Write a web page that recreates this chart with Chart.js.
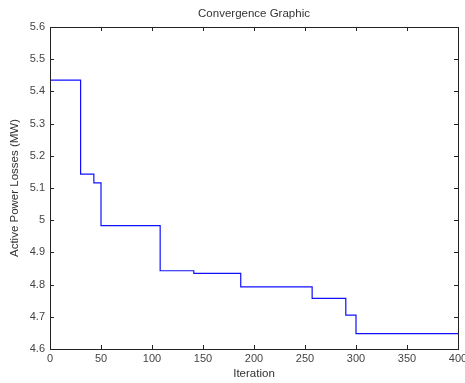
<!DOCTYPE html>
<html>
<head>
<meta charset="utf-8">
<script src="https://cdn.jsdelivr.net/npm/chart.js@4"></script>
<style>
  html, body { margin: 0; padding: 0; background: #fff; }
  #wrap { width: 465px; height: 383px; }
</style>
</head>
<body>
<div id="wrap"><canvas id="chart"></canvas></div>
<script>
// step start points of the convergence curve
const iterations = [0, 30, 43, 50, 108, 141, 187, 257, 290, 300, 400];
const losses = [5.435, 5.143, 5.116, 4.983, 4.843, 4.835, 4.793, 4.757, 4.705, 4.648, 4.648];
const xTicks = [0, 50, 100, 150, 200, 250, 300, 350, 400];
const yTicks = [4.6, 4.7, 4.8, 4.9, 5, 5.1, 5.2, 5.3, 5.4, 5.5, 5.6];
const chartTitle = 'Convergence Graphic';

const points = iterations.map((x, i) => ({ x: x, y: losses[i] }));
const font = 'Liberation Sans, Arial, sans-serif';

// matlab style box with inward ticks, title centred over the axes
const boxPlugin = {
  id: 'box',
  afterDraw(chart) {
    const ctx = chart.ctx;
    const a = chart.chartArea;
    const xs = chart.scales.x;
    const ys = chart.scales.y;
    ctx.save();
    ctx.strokeStyle = '#222';
    ctx.lineWidth = 1;
    ctx.strokeRect(Math.round(a.left) + 0.5, Math.round(a.top) + 0.5,
      Math.round(a.right - a.left), Math.round(a.bottom - a.top));
    ctx.beginPath();
    xTicks.forEach(v => {
      const px = Math.round(xs.getPixelForValue(v)) + 0.5;
      ctx.moveTo(px, a.bottom); ctx.lineTo(px, a.bottom - 4);
      ctx.moveTo(px, a.top); ctx.lineTo(px, a.top + 4);
    });
    yTicks.forEach(v => {
      const py = Math.round(ys.getPixelForValue(v)) + 0.5;
      ctx.moveTo(a.left, py); ctx.lineTo(a.left + 4, py);
      ctx.moveTo(a.right, py); ctx.lineTo(a.right - 4, py);
    });
    ctx.stroke();

    ctx.fillStyle = '#333';
    ctx.font = '11.5px ' + font;
    ctx.textAlign = 'center';
    ctx.textBaseline = 'middle';
    ctx.fillText(chartTitle, (a.left + a.right) / 2, a.top - 13);
    ctx.restore();
  }
};

const ctx = document.getElementById('chart').getContext('2d');
new Chart(ctx, {
  type: 'line',
  data: {
    datasets: [{
      data: points,
      borderColor: '#1010ff',
      borderWidth: 1.2,
      stepped: 'before',
      pointRadius: 0,
      fill: false
    }]
  },
  options: {
    responsive: true,
    maintainAspectRatio: false,
    animation: false,
    layout: { padding: { top: 27, right: 7, left: 0, bottom: 0 } },
    plugins: {
      legend: { display: false },
      tooltip: { enabled: false },
      title: { display: false }
    },
    scales: {
      x: {
        type: 'linear',
        min: 0,
        max: 400,
        afterFit: s => { s.height = 34; s.paddingRight = 0; s.paddingLeft = 0; },
        afterBuildTicks: s => { s.ticks = xTicks.map(v => ({ value: v })); },
        grid: { display: false, drawTicks: false },
        border: { display: false },
        ticks: {
          color: '#444',
          padding: 3,
          maxRotation: 0,
          font: { family: font, size: 11 }
        },
        title: {
          display: true,
          text: 'Iteration',
          color: '#333',
          padding: { top: 0, bottom: 2 },
          font: { family: font, size: 11.5 }
        }
      },
      y: {
        type: 'linear',
        min: 4.6,
        max: 5.6,
        afterFit: s => { s.width = 50; s.paddingTop = 0; },
        afterBuildTicks: s => { s.ticks = yTicks.map(v => ({ value: v })); },
        grid: { display: false, drawTicks: false },
        border: { display: false },
        ticks: {
          color: '#444',
          padding: 5,
          callback: v => String(Math.round(v * 10) / 10),
          font: { family: font, size: 11 }
        },
        title: {
          display: true,
          text: 'Active Power Losses (MW)',
          color: '#333',
          padding: { top: 8, bottom: 0 },
          font: { family: font, size: 11.5 }
        }
      }
    }
  },
  plugins: [boxPlugin]
});
</script>
</body>
</html>
